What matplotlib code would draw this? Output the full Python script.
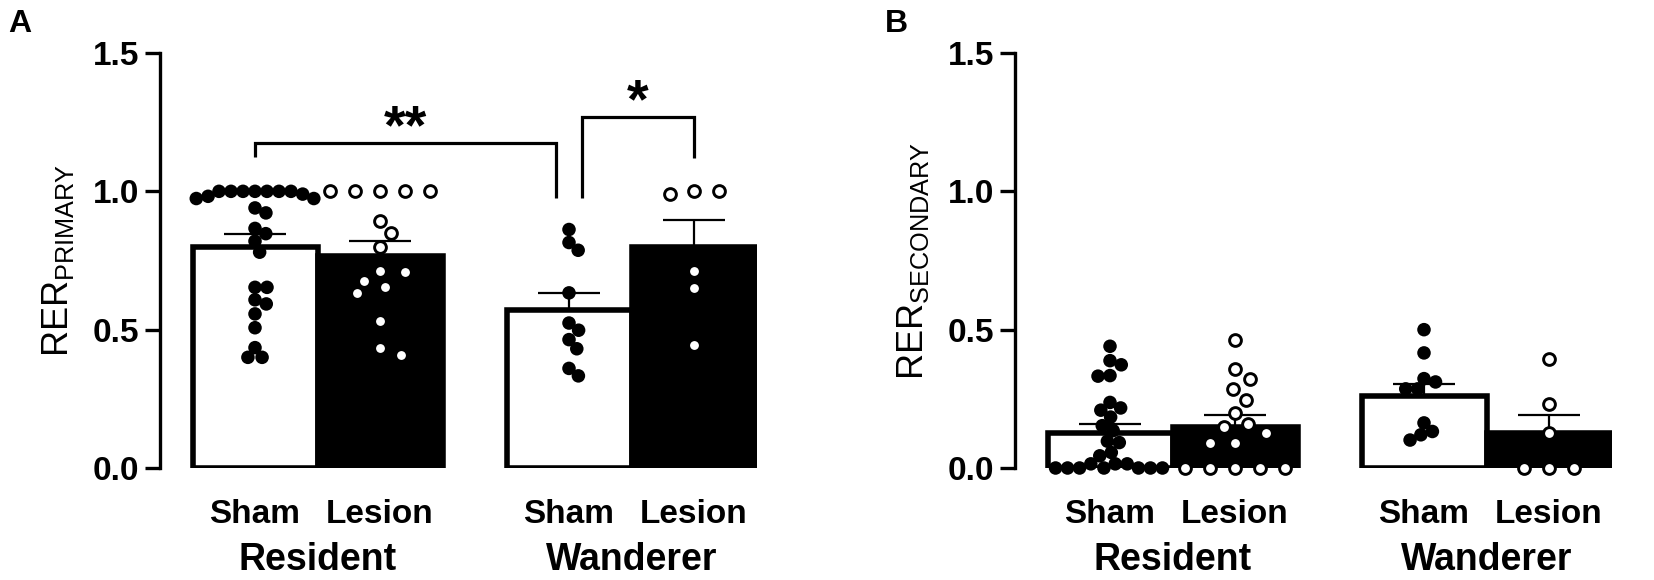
import numpy as np
import matplotlib
matplotlib.use('Agg')
import matplotlib.pyplot as plt
from matplotlib.transforms import blended_transform_factory

plt.rcParams['font.family'] = ['Liberation Sans', 'DejaVu Sans']
plt.rcParams['mathtext.fontset'] = 'custom'
plt.rcParams['mathtext.rm'] = 'Liberation Sans'

# ---------------- data ----------------
group_names = ['Resident', 'Wanderer']
condition_names = ['Sham', 'Lesion', 'Sham', 'Lesion']
tick_values = [0.0, 0.5, 1.0, 1.5]
tick_labels = ['0.0', '0.5', '1.0', '1.5']

# Panel A: RER primary
a_res_sham = [1.0, 1.0, 1.0, 1.0, 1.0, 0.974, 0.982, 0.974, 0.99, 1.0, 1.0,
              0.94, 0.922, 0.866, 0.847, 0.82, 0.78, 0.653, 0.653, 0.608,
              0.593, 0.557, 0.507, 0.435, 0.40, 0.40]
a_res_lesion = [1.0, 1.0, 1.0, 1.0, 1.0, 0.892, 0.85, 0.797, 0.713, 0.707,
                0.677, 0.653, 0.632, 0.533, 0.434, 0.408]
a_wan_sham = [0.862, 0.815, 0.787, 0.633, 0.524, 0.498, 0.464, 0.431, 0.36, 0.333]
a_wan_lesion = [1.0, 0.99, 1.0, 0.713, 0.65, 0.446]
a_means = [0.80, 0.765, 0.57, 0.80]
a_sems = [0.047, 0.055, 0.062, 0.096]

# Panel B: RER secondary
b_res_sham = [0.44, 0.388, 0.373, 0.332, 0.334, 0.237, 0.217, 0.209, 0.184,
              0.153, 0.135, 0.097, 0.092, 0.056, 0.044, 0.015, 0.015, 0.015,
              0.0, 0.0, 0.0, 0.0, 0.0, 0.0, 0.0]
b_res_lesion = [0.464, 0.357, 0.32, 0.286, 0.246, 0.199, 0.159, 0.149, 0.126,
                0.089, 0.089, 0.0, 0.0, 0.0, 0.0, 0.0]
b_wan_sham = [0.5, 0.416, 0.323, 0.311, 0.286, 0.286, 0.163, 0.132, 0.12, 0.101]
b_wan_lesion = [0.394, 0.233, 0.126, 0.0, 0.0, 0.0]
b_means = [0.125, 0.15, 0.26, 0.125]
b_sems = [0.033, 0.04, 0.045, 0.065]

# significance brackets (panel A)
sig_left = [0, 2]            # bar index of left leg
sig_right = [2, 3]           # bar index of right leg
sig_heights = [1.173, 1.267]
sig_left_foot = [1.123, 0.975]
sig_right_foot = [0.975, 1.119]
sig_text = ['**', '*']

# ---------------- layout ----------------
W, H = 1654, 580
bar_centers = np.array([0.76, 1.76, 3.272, 4.272])
group_centers = [bar_centers[:2].mean(), bar_centers[2:].mean()]
xmax = 4.772
bar_faces = ['white', 'black', 'white', 'black']
filled = [True, False, True, False]

fig = plt.figure(figsize=(W / 100, H / 100), dpi=100)
ax_bottom = 1 - 468 / H
ax_height = 415 / H
ax_width = 596.5 / W
axA = fig.add_axes([160 / W, ax_bottom, ax_width, ax_height])
axB = fig.add_axes([1015 / W, ax_bottom, ax_width, ax_height])


def swarm_x(ax, xc, vals, sx, sy):
    vals = np.asarray(vals, float)
    pts = ax.transData.transform(np.column_stack([np.full(len(vals), xc), vals]))
    ys = pts[:, 1]
    order = np.argsort(-ys, kind='stable')
    placed = []
    offs = np.zeros(len(vals))
    for i in order:
        y = ys[i]
        neigh = [(xo, yo) for xo, yo in placed if abs(yo - y) < sy]
        cands = [0.0]
        for xo, yo in neigh:
            dx = sx * np.sqrt(max(0.0, 1 - ((yo - y) / sy) ** 2))
            cands += [xo + dx, xo - dx]
        cands = sorted(cands, key=lambda c: (round(abs(c), 6), -np.sign(c)))
        for c in cands:
            if all(((c - xo) / sx) ** 2 + ((y - yo) / sy) ** 2 >= 0.999 for xo, yo in neigh):
                offs[i] = c
                break
        placed.append((offs[i], y))
    disp = np.column_stack([pts[:, 0] + offs, ys])
    return ax.transData.inverted().transform(disp)[:, 0]


def draw_panel(ax, series, means, sems, ylabel, label_x):
    ax.set_xlim(0, xmax)
    ax.set_ylim(0, 1.5)
    ax.bar(bar_centers, means, width=1.0, color=bar_faces, edgecolor='black',
           linewidth=4, zorder=1)
    ax.errorbar(bar_centers, means, yerr=[np.zeros(len(means)), sems], fmt='none',
                ecolor='black', elinewidth=1.6, capsize=22, capthick=1.6, zorder=2)
    for xc, vals, fill in zip(bar_centers, series, filled):
        if fill:
            xs = swarm_x(ax, xc, vals, 12.0, 12.0)
            ax.scatter(xs, vals, s=95, c='black', edgecolors='none', zorder=4,
                       clip_on=False)
        else:
            xs = swarm_x(ax, xc, vals, 25.0, 13.0)
            ax.scatter(xs, vals, s=72, c='white', edgecolors='black',
                       linewidths=2.1, zorder=4, clip_on=False)
    for sp in ['top', 'right', 'bottom']:
        ax.spines[sp].set_visible(False)
    ax.spines['left'].set_linewidth(2.4)
    ax.set_yticks(tick_values)
    ax.set_yticklabels(tick_labels, fontsize=24, fontweight='bold')
    ax.tick_params(axis='y', length=11, width=2.4, pad=4)
    ax.set_xticks(bar_centers)
    ax.set_xticklabels(condition_names, fontsize=24, fontweight='bold')
    ax.tick_params(axis='x', length=0, pad=22)
    tr = blended_transform_factory(ax.transData, ax.transAxes)
    for gx, gname in zip(group_centers, group_names):
        ax.text(gx, -0.222, gname, transform=tr, ha='center', va='center',
                fontsize=27, fontweight='bold')
    pos = ax.get_position()
    fig.text(label_x / W, pos.y0 + pos.height / 2, ylabel, rotation=90,
             ha='center', va='center', fontsize=26)


draw_panel(axA, [a_res_sham, a_res_lesion, a_wan_sham, a_wan_lesion], a_means,
           a_sems, r'$\mathregular{RER_{PRIMARY}}$', 58)
draw_panel(axB, [b_res_sham, b_res_lesion, b_wan_sham, b_wan_lesion], b_means,
           b_sems, r'$\mathregular{RER_{SECONDARY}}$', 913)

# significance brackets on panel A
leg_offset = 0.104
for li, ri, h, yl, yr, txt in zip(sig_left, sig_right, sig_heights,
                                  sig_left_foot, sig_right_foot, sig_text):
    xl = bar_centers[li] + (leg_offset if li == 2 else 0.0)
    xr = bar_centers[ri] - (leg_offset if ri == 2 else 0.0)
    axA.plot([xl, xl, xr, xr], [yl, h, h, yr], color='black', lw=2.3,
             solid_capstyle='butt', solid_joinstyle='miter', clip_on=False, zorder=5)
    axA.text((xl + xr) / 2, h, txt, ha='center', va='baseline', fontsize=40,
             fontweight='bold')

fig.text(8 / W, 1 - 9 / H, 'A', fontsize=23, fontweight='bold', va='top', ha='left')
fig.text(885 / W, 1 - 9 / H, 'B', fontsize=23, fontweight='bold', va='top', ha='left')

fig.savefig('out.png', dpi=100)
